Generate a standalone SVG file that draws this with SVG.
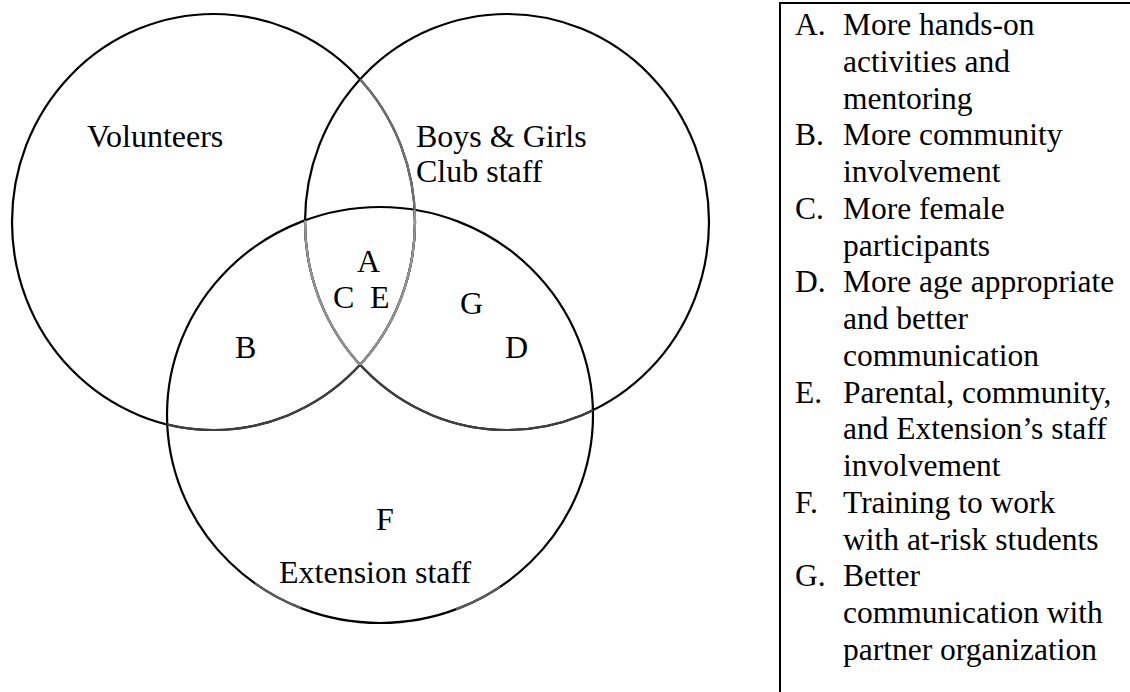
<svg xmlns="http://www.w3.org/2000/svg" xmlns:xlink="http://www.w3.org/1999/xlink" width="1130" height="692" viewBox="0 0 1130 692">
<style>
.ring{fill:none;stroke-width:2.2}
.k{stroke:#000}
.g1{stroke:#707070}
.g2{stroke:#404040}
.g3{stroke:#959595}
.g4{stroke:#5a5a5a}
.t{font-family:'Liberation Serif','Tinos','Times New Roman','DejaVu Serif',serif;font-size:32px;fill:#000}
.lg{font-family:'Liberation Serif','Tinos','Times New Roman','DejaVu Serif',serif;font-size:31.5px;fill:#000}
.box{fill:none;stroke:#000;stroke-width:2}
</style>
<defs>
<ellipse id="eV" cx="213.5" cy="222" rx="201.5" ry="208"/>
<ellipse id="eB" cx="507" cy="222" rx="202" ry="208"/>
<ellipse id="eE" cx="380" cy="415" rx="213" ry="208"/>
<clipPath id="cV"><ellipse cx="213.5" cy="222" rx="201.5" ry="208"/></clipPath>
<clipPath id="cB"><ellipse cx="507" cy="222" rx="202" ry="208"/></clipPath>
<clipPath id="cE"><ellipse cx="380" cy="415" rx="213" ry="208"/></clipPath>
<clipPath id="cBot"><rect x="255" y="560" width="46" height="70"/><rect x="456" y="560" width="44" height="70"/></clipPath>
</defs>
<g id="volunteers">
<use xlink:href="#eV" class="ring k"/>
<text class="t" x="87" y="147">Volunteers</text>
</g>
<g id="boys-girls-club-staff">
<use xlink:href="#eB" class="ring k"/>
<text class="t" x="416" y="147">Boys &amp; Girls</text>
<text class="t" x="416" y="182">Club staff</text>
</g>
<g id="extension-staff">
<use xlink:href="#eE" class="ring k"/>
<text class="t" x="279" y="583">Extension staff</text>
</g>
<g id="overlap-shading">
<use xlink:href="#eV" class="ring g1" clip-path="url(#cB)"/>
<use xlink:href="#eV" class="ring g2" clip-path="url(#cE)"/>
<use xlink:href="#eB" class="ring g2" clip-path="url(#cE)"/>
<g clip-path="url(#cB)"><use xlink:href="#eV" class="ring g3" clip-path="url(#cE)"/></g>
<g clip-path="url(#cV)"><use xlink:href="#eB" class="ring g3" clip-path="url(#cE)"/></g>
<use xlink:href="#eE" class="ring g4" clip-path="url(#cBot)"/>
</g>
<g id="region-labels">
<text class="t" x="357" y="272">A</text>
<text class="t" x="333" y="308">C</text>
<text class="t" x="370" y="308">E</text>
<text class="t" x="460" y="314">G</text>
<text class="t" x="235" y="358">B</text>
<text class="t" x="505" y="358">D</text>
<text class="t" x="376" y="530">F</text>
</g>
<g id="legend">
<rect class="box" x="780" y="3" width="400" height="720"/>
<text class="lg" x="795" y="35">A.</text><text class="lg" x="843" y="35">More hands-on</text>
<text class="lg" x="843" y="71.75">activities and</text>
<text class="lg" x="843" y="108.5">mentoring</text>
<text class="lg" x="795" y="145.25">B.</text><text class="lg" x="843" y="145.25">More community</text>
<text class="lg" x="843" y="182">involvement</text>
<text class="lg" x="795" y="218.75">C.</text><text class="lg" x="843" y="218.75">More female</text>
<text class="lg" x="843" y="255.5">participants</text>
<text class="lg" x="795" y="292.25">D.</text><text class="lg" x="843" y="292.25">More age appropriate</text>
<text class="lg" x="843" y="329">and better</text>
<text class="lg" x="843" y="365.75">communication</text>
<text class="lg" x="795" y="402.5">E.</text><text class="lg" x="843" y="402.5">Parental, community,</text>
<text class="lg" x="843" y="439.25">and Extension’s staff</text>
<text class="lg" x="843" y="476">involvement</text>
<text class="lg" x="795" y="512.75">F.</text><text class="lg" x="843" y="512.75">Training to work</text>
<text class="lg" x="843" y="549.5">with at-risk students</text>
<text class="lg" x="795" y="586.25">G.</text><text class="lg" x="843" y="586.25">Better</text>
<text class="lg" x="843" y="623">communication with</text>
<text class="lg" x="843" y="659.75">partner organization</text>
</g>
</svg>
